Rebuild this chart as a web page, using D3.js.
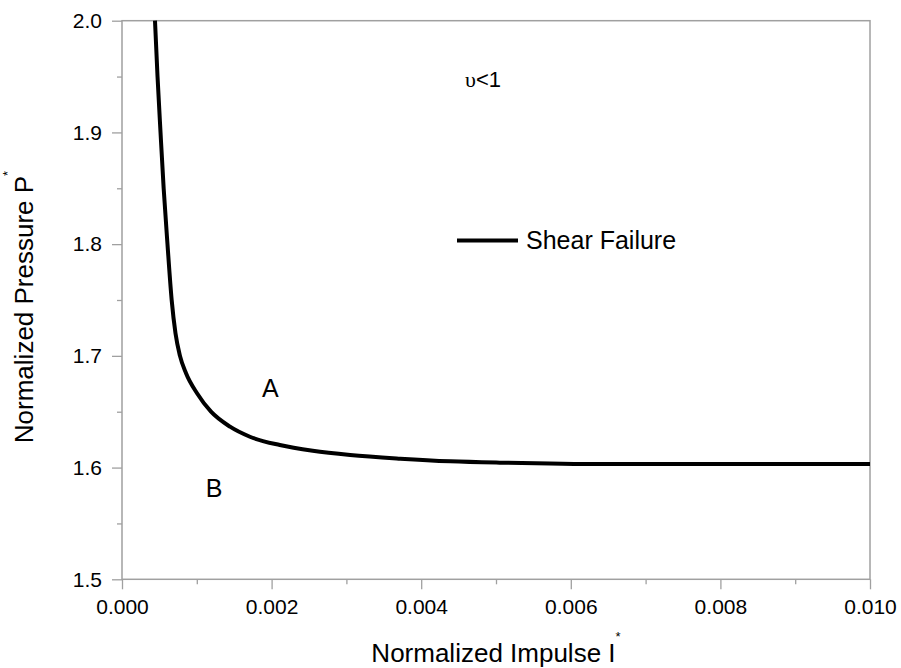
<!DOCTYPE html>
<html>
<head>
<meta charset="utf-8">
<script src="https://cdn.jsdelivr.net/npm/d3@7"></script>
<style>
  body { margin: 0; background: #fff; }
  svg { display: block; font-family: "Liberation Sans", Arial, sans-serif; }
</style>
</head>
<body>
<svg id="chart" width="901" height="668"></svg>
<script>
// curve
const impulse = [0.000441, 0.000475, 0.000515, 0.000557, 0.000608, 0.000664, 0.000715, 0.000775,
    0.000856, 0.001003, 0.00119, 0.001444, 0.00171, 0.00211, 0.00255, 0.00305, 0.00372, 0.00439,
    0.00505, 0.00572, 0.00639, 0.0075, 0.0088, 0.01];
const pressure = [2.0, 1.95, 1.9, 1.85, 1.8, 1.75, 1.7202, 1.70, 1.6844, 1.6665, 1.65, 1.6366,
    1.6276, 1.6202, 1.6151, 1.6113, 1.608, 1.6056, 1.6044, 1.6037, 1.6032, 1.6032, 1.6031, 1.6031];

const xTicks = [0, 0.002, 0.004, 0.006, 0.008, 0.010];
const xMinor = [0.001, 0.003, 0.005, 0.007, 0.009];
const yTicks = [1.5, 1.6, 1.7, 1.8, 1.9, 2.0];
const yMinor = [1.55, 1.65, 1.75, 1.85, 1.95];

const seriesName = "Shear Failure";
const regionLabels = [
    { text: "A", I: 0.00187, P: 1.6634 },
    { text: "B", I: 0.00112, P: 1.5739 }
];

const margin = { top: 20.7, right: 31, bottom: 88.7, left: 122 };
const width = 901, height = 668;
const grey = "#a0a0a0";

const svg = d3.select("#chart");
const x = d3.scaleLinear().domain([0, 0.01]).range([margin.left, width - margin.right]);
const y = d3.scaleLinear().domain([1.5, 2.0]).range([height - margin.bottom, margin.top]);

const styleAxis = g => {
    g.select(".domain").remove();
    g.selectAll(".tick line").attr("stroke", grey).attr("stroke-width", 1.3);
    g.selectAll(".tick text").attr("fill", "#000").attr("font-size", 21)
        .attr("font-family", "\"Liberation Sans\", Arial, sans-serif");
};

// minor ticks
svg.append("g")
    .attr("transform", `translate(0,${y(1.5)})`)
    .call(d3.axisBottom(x).tickValues(xMinor).tickSize(5).tickFormat(""))
    .call(styleAxis);
svg.append("g")
    .attr("transform", `translate(${x(0)},0)`)
    .call(d3.axisLeft(y).tickValues(yMinor).tickSize(5).tickFormat(""))
    .call(styleAxis);

// major ticks
svg.append("g")
    .attr("transform", `translate(0,${y(1.5)})`)
    .call(d3.axisBottom(x).tickValues(xTicks).tickSize(10).tickPadding(10).tickFormat(d3.format(".3f")))
    .call(styleAxis);
svg.append("g")
    .attr("transform", `translate(${x(0)},0)`)
    .call(d3.axisLeft(y).tickValues(yTicks).tickSize(10).tickPadding(10).tickFormat(d3.format(".1f")))
    .call(styleAxis);

// frame
svg.append("rect")
    .attr("x", x(0)).attr("y", y(2.0))
    .attr("width", x(0.01) - x(0)).attr("height", y(1.5) - y(2.0))
    .attr("fill", "none").attr("stroke", grey).attr("stroke-width", 1.5);

// curve
const line = d3.line()
    .x((d, i) => x(impulse[i]))
    .y((d, i) => y(pressure[i]))
    .curve(d3.curveMonotoneX);

svg.append("path")
    .datum(impulse)
    .attr("fill", "none")
    .attr("stroke", "#000")
    .attr("stroke-width", 4)
    .attr("stroke-linejoin", "round")
    .attr("d", line);

// legend
svg.append("line")
    .attr("x1", 457).attr("x2", 518).attr("y1", 240.5).attr("y2", 240.5)
    .attr("stroke", "#000").attr("stroke-width", 4);
svg.append("text")
    .attr("x", 526).attr("y", 249)
    .attr("font-size", 25)
    .text(seriesName);

// nu < 1 note
const note = svg.append("text")
    .attr("x", 465).attr("y", 87)
    .attr("font-size", 22);
note.append("tspan").attr("font-family", "\"Liberation Serif\", \"DejaVu Serif\", serif").text("υ");
note.append("tspan").text("<1");

// region labels
svg.append("g")
    .selectAll("text")
    .data(regionLabels)
    .join("text")
    .attr("x", d => x(d.I))
    .attr("y", d => y(d.P))
    .attr("font-size", 25)
    .text(d => d.text);

// axis titles
const xTitle = svg.append("text")
    .attr("x", (x(0) + x(0.01)) / 2)
    .attr("y", 662)
    .attr("text-anchor", "middle")
    .attr("font-size", 26);
xTitle.append("tspan").text("Normalized Impulse I");
xTitle.append("tspan").attr("font-size", 13).attr("dy", -21).text("*");

const yTitle = svg.append("text")
    .attr("transform", `translate(33,307) rotate(-90)`)
    .attr("text-anchor", "middle")
    .attr("font-size", 26);
yTitle.append("tspan").text("Normalized Pressure P");
yTitle.append("tspan").attr("font-size", 13).attr("dy", -21).text("*");
</script>
</body>
</html>
